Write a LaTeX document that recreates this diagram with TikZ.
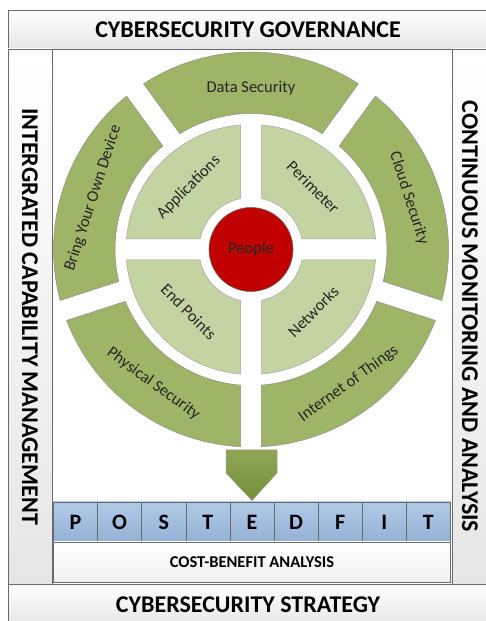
\documentclass[tikz,border=0pt]{standalone}
\usepackage{fontspec}
\setmainfont{Carlito}
\usetikzlibrary{positioning}
\definecolor{ringO}{HTML}{9EB467}
\definecolor{ringI}{HTML}{C3D3A2}
\definecolor{core}{HTML}{C00000}
\definecolor{cellT}{HTML}{B2CAE6}
\definecolor{cellB}{HTML}{93B1D5}
\definecolor{arrT}{HTML}{90A756}
\definecolor{arrB}{HTML}{72903A}
\definecolor{edge}{HTML}{6A6A6A}
\definecolor{shadeG}{HTML}{E6E6E6}
\definecolor{txt}{HTML}{262626}
\tikzset{
  band/.style={draw=edge, line width=0.7pt, inner sep=0pt, top color=white, bottom color=shadeG,
    font=\fontsize{24}{28}\selectfont\bfseries},
  outseg/.style={fill=ringO, draw=edge!75, line width=0.5pt},
  inseg/.style={fill=ringI, draw=edge!60, line width=0.5pt},
  seglab/.style={font=\fontsize{16.5}{19}\selectfont, text=txt, inner sep=0pt},
  core/.style={circle, fill=core, draw=edge, line width=0.6pt, minimum size=84pt,
    font=\fontsize{16.5}{19}\selectfont, text=black!85},
  cell/.style={draw=edge, line width=0.6pt, top color=cellT, bottom color=cellB, outer sep=0pt,
    minimum width=44.1pt, minimum height=40pt, inner sep=0pt, font=\fontsize{22}{26}\selectfont\bfseries},
  costbox/.style={draw=edge, line width=0.6pt, top color=white, bottom color=white!94!black, outer sep=0pt,
    minimum width=396.9pt, minimum height=40pt, inner sep=0pt, font=\fontsize{16.5}{19}\selectfont\bfseries},
  arrowshape/.style={top color=arrT, bottom color=arrB, draw=edge!70, line width=0.5pt},
  % annular piece between two gap directions, gaps kept 21pt wide
  pics/ringseg/.style n args={4}{code={
    \path[pic actions]
      ({#1+asin(10.5/#4)}:#4) arc[start angle={#1+asin(10.5/#4)}, end angle={#2-asin(10.5/#4)}, radius=#4]
      -- ({#2-asin(10.5/#3)}:#3) arc[start angle={#2-asin(10.5/#3)}, end angle={#1+asin(10.5/#3)}, radius=#3]
      -- cycle;
  }},
}

\begin{document}
\begin{tikzpicture}[x=1pt,y=1pt]
\useasboundingbox[fill=white] (0,0) rectangle (485,621);

% ============ frame bands ============
\node[band, minimum width=480pt, minimum height=39pt] (gov) at (248,591.5) {CYBERSECURITY GOVERNANCE};
\node[band, minimum width=480pt, minimum height=42pt] (strat) at (248,16) {CYBERSECURITY STRATEGY};
\node[band, rotate=-90, minimum width=535pt, minimum height=44pt] (icm) at (30,304.5)
  {INTERGRATED CAPABILITY MANAGEMENT};
\node[band, rotate=-90, minimum width=535pt, minimum height=36pt] (cma) at (470,304.5)
  {CONTINUOUS MONITORING AND ANALYSIS};

% ============ ring ============
\coordinate (ctr) at (251,371.5);
% outer ring, five pieces
\pic[outseg] at (ctr) {ringseg={54}{126}{136}{197.5}};
\pic[outseg] at (ctr) {ringseg={126}{198}{136}{197.5}};
\pic[outseg] at (ctr) {ringseg={198}{270}{136}{197.5}};
\pic[outseg] at (ctr) {ringseg={270}{342}{136}{197.5}};
\pic[outseg] at (ctr) {ringseg={-18}{54}{136}{197.5}};
% inner ring, four quarters
\pic[inseg] at (ctr) {ringseg={0}{90}{52}{125}};
\pic[inseg] at (ctr) {ringseg={90}{180}{52}{125}};
\pic[inseg] at (ctr) {ringseg={180}{270}{52}{125}};
\pic[inseg] at (ctr) {ringseg={270}{360}{52}{125}};
\node[core] (people) at (ctr) {People};

% outer labels
\node[seglab] (tData) at ([shift={(90:161)}]ctr) {Data Security};
\node[seglab, rotate=72] (tByod) at ([shift={(162:166)}]ctr) {Bring Your Own Device};
\node[seglab, rotate=-72] (tCloud) at ([shift={(18:166)}]ctr) {Cloud Security};
\node[seglab, rotate=-36] (tPhys) at ([shift={(234:166)}]ctr) {Physical Security};
\node[seglab, rotate=36] (tIot) at ([shift={(306:166)}]ctr) {Internet of Things};
% inner labels
\node[seglab, rotate=45] (tApp) at ([shift={(135:88)}]ctr) {Applications};
\node[seglab, rotate=-45] (tPer) at ([shift={(45:88)}]ctr) {Perimeter};
\node[seglab, rotate=-45] (tEnd) at ([shift={(225:88)}]ctr) {End Points};
\node[seglab, rotate=45] (tNet) at ([shift={(315:88)}]ctr) {Networks};

% ============ POSTEDFIT row ============
\node[cell, anchor=north west] (cP) at (53.5,119) {P};
\node[cell, right=0pt of cP] (cO) {O};
\node[cell, right=0pt of cO] (cS) {S};
\node[cell, right=0pt of cS] (cT) {T};
\node[cell, right=0pt of cT] (cE) {E};
\node[cell, right=0pt of cE] (cD) {D};
\node[cell, right=0pt of cD] (cF) {F};
\node[cell, right=0pt of cF] (cI) {I};
\node[cell, right=0pt of cI] (cTt) {T};
\node[costbox, below=0pt of cE] (cba) {COST-BENEFIT ANALYSIS};

% down arrow into the row
\draw[arrowshape] (226,171) -- (277,171) -- (277,148) -- ([yshift=1.5pt]cE.north) -- (226,148) -- cycle;

\end{tikzpicture}
\end{document}
